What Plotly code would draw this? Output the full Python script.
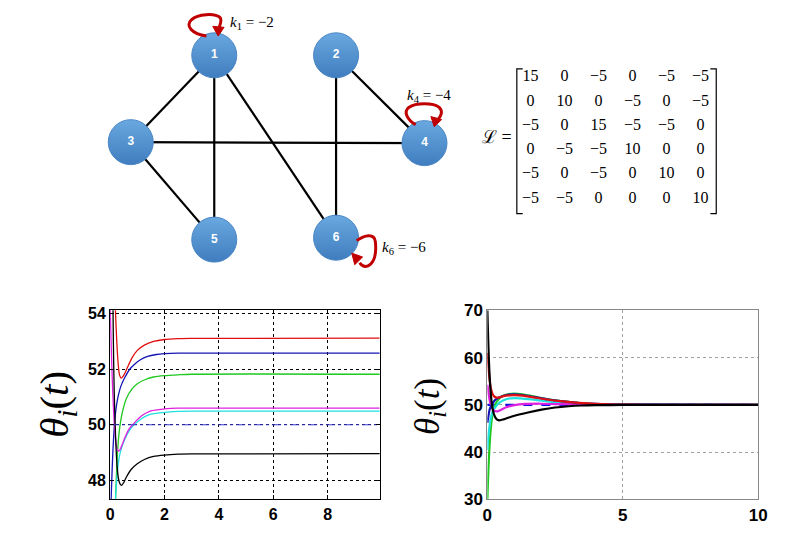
import plotly.graph_objects as go

W, H = 795, 542

# ---------------- graph data ----------------
node_ids = ["1", "2", "3", "4", "5", "6"]
node_x = [213, 337, 128, 427, 213, 337]
node_y = [48, 48, 138, 139, 239, 237]
edges = [(1, 3), (1, 5), (1, 6), (2, 4), (2, 6), (3, 4), (3, 5)]
pin_labels = {1: "<i>k</i><sub>1</sub> = −2", 4: "<i>k</i><sub>4</sub> = −4", 6: "<i>k</i><sub>6</sub> = −6"}

L_matrix = [
    [15, 0, -5, 0, -5, -5],
    [0, 10, 0, -5, 0, -5],
    [-5, 0, 15, -5, -5, 0],
    [0, -5, -5, 10, 0, 0],
    [-5, 0, -5, 0, 10, 0],
    [-5, -5, 0, 0, 0, 10],
]

# ---------------- left plot (pinned) ----------------
tL_red = [0, 0.05, 0.1, 0.15, 0.2, 0.25, 0.3, 0.35, 0.41, 0.5, 0.6, 0.8, 1.0, 1.26, 1.6, 2.0, 2.5, 3, 9.92]
yL_red = [61, 59.2, 57.3, 55.6, 54.0, 52.9, 52.15, 51.78, 51.68, 51.78, 51.98, 52.4, 52.68, 52.87, 53.0, 53.07, 53.1, 53.11, 53.12]
tL_blue = [0, 0.05, 0.1, 0.16, 0.22, 0.3, 0.4, 0.54, 0.72, 0.9, 1.1, 1.38, 1.7, 2.0, 2.5, 3, 9.92]
yL_blue = [46.2, 47.7, 49.0, 50.0, 50.6, 51.05, 51.4, 51.7, 52.0, 52.18, 52.33, 52.46, 52.53, 52.56, 52.58, 52.58, 52.58]
tL_green = [0, 0.05, 0.1, 0.15, 0.2, 0.25, 0.3, 0.36, 0.45, 0.6, 0.8, 1.0, 1.3, 1.6, 2.0, 2.5, 3, 9.92]
yL_green = [30, 36, 41, 44.8, 47.3, 48.6, 49.4, 49.95, 50.45, 50.95, 51.28, 51.48, 51.63, 51.72, 51.77, 51.8, 51.82, 51.82]
tL_mag = [0, 0.03, 0.06, 0.1, 0.15, 0.2, 0.25, 0.3, 0.36, 0.45, 0.55, 0.7, 0.85, 1.0, 1.2, 1.5, 2.0, 2.5, 3, 9.92]
yL_mag = [54.3, 53.2, 52.2, 51.1, 50.1, 49.5, 49.15, 49.05, 49.1, 49.3, 49.55, 49.85, 50.02, 50.18, 50.35, 50.5, 50.57, 50.6, 50.6, 50.6]
tL_cyan = [0, 0.1, 0.18, 0.25, 0.3, 0.36, 0.45, 0.55, 0.7, 0.85, 1.0, 1.2, 1.5, 2.0, 2.5, 3, 9.92]
yL_cyan = [40.5, 44.5, 47.0, 48.1, 48.6, 48.95, 49.25, 49.5, 49.78, 49.97, 50.1, 50.25, 50.38, 50.45, 50.48, 50.49, 50.49]
tL_black = [0, 0.03, 0.06, 0.09, 0.12, 0.15, 0.2, 0.25, 0.3, 0.36, 0.42, 0.5, 0.6, 0.78, 1.0, 1.26, 1.6, 2.0, 2.5, 3.0, 9.92]
yL_black = [70, 64, 59.5, 55.8, 53.0, 51.2, 49.6, 48.6, 48.1, 47.88, 47.82, 47.92, 48.12, 48.4, 48.6, 48.75, 48.86, 48.91, 48.94, 48.95, 48.96]
tL_avg = [0, 9.92]
yL_avg = [50, 50]

# ---------------- right plot (consensus) ----------------
tR_black = [0, 0.03, 0.06, 0.1, 0.15, 0.2, 0.28, 0.36, 0.45, 0.6, 0.8, 1.0, 1.5, 2.0, 2.5, 3.0, 3.5, 4.0, 5, 6, 10]
yR_black = [70, 64, 59, 54.5, 51, 49, 47.5, 46.9, 46.75, 46.95, 47.35, 47.7, 48.4, 49.0, 49.45, 49.72, 49.88, 49.95, 49.99, 50, 50]
tR_red = [0, 0.04, 0.08, 0.12, 0.18, 0.25, 0.33, 0.45, 0.6, 0.8, 1.0, 1.3, 1.7, 2.2, 2.7, 3.4, 4, 5, 6, 10]
yR_red = [61, 58, 55.5, 53.8, 52.5, 51.8, 51.55, 51.6, 51.85, 52.0, 52.05, 51.95, 51.6, 51.15, 50.8, 50.45, 50.25, 50.08, 50.02, 50]
tR_blue = [0, 0.05, 0.1, 0.2, 0.3, 0.45, 0.6, 0.8, 1.0, 1.3, 1.7, 2.2, 2.7, 3.4, 4, 5, 10]
yR_blue = [46.2, 48, 49.3, 50.4, 51.1, 51.6, 51.95, 52.2, 52.25, 52.1, 51.7, 51.2, 50.8, 50.4, 50.2, 50.05, 50]
tR_green = [0, 0.03, 0.06, 0.1, 0.15, 0.2, 0.3, 0.45, 0.6, 0.8, 1.0, 1.3, 1.7, 2.2, 2.8, 3.5, 4.5, 5.5, 10]
yR_green = [30, 35, 39, 43, 46.3, 48.3, 50.2, 51.4, 52.0, 52.3, 52.4, 52.25, 51.8, 51.25, 50.75, 50.35, 50.1, 50.03, 50]
tR_cyan = [0, 0.04, 0.08, 0.13, 0.2, 0.3, 0.45, 0.6, 0.8, 1.0, 1.3, 1.7, 2.2, 2.8, 3.5, 4.5, 10]
yR_cyan = [40.5, 43.5, 45.5, 47.3, 48.6, 49.6, 50.5, 51.0, 51.35, 51.45, 51.35, 51.1, 50.75, 50.45, 50.2, 50.06, 50]
tR_mag = [0, 0.05, 0.1, 0.18, 0.28, 0.38, 0.5, 0.7, 1.0, 1.4, 2.0, 2.8, 3.5, 4.5, 10]
yR_mag = [54.3, 52.2, 50.6, 49.3, 48.7, 48.65, 48.95, 49.5, 49.95, 50.2, 50.25, 50.15, 50.08, 50.02, 50]
tR_avg = [0, 10]
yR_avg = [50, 50]

COL = dict(red="#e01010", blue="#1414b4", green="#20c820", mag="#e020e0", cyan="#20e0e0", black="#000000", avg="#3a3ad0")

fig = go.Figure()

# ---------------- graph (top-left) on pixel-like axis x3/y3 ----------------
ex, ey = [], []
for a, b in edges:
    ex += [node_x[a - 1], node_x[b - 1], None]
    ey += [node_y[a - 1], node_y[b - 1], None]
fig.add_trace(go.Scatter(x=ex, y=ey, mode="lines", line=dict(color="black", width=2.2),
                         xaxis="x3", yaxis="y3", hoverinfo="skip", showlegend=False))
fig.add_trace(go.Scatter(x=node_x, y=node_y, mode="markers+text", text=node_ids,
                         textposition="middle center",
                         textfont=dict(family="Liberation Sans", size=12, color="white", weight="bold"),
                         marker=dict(size=45, color="#6aa8e0",
                                     gradient=dict(type="vertical", color="#3f7dbf"),
                                     line=dict(color="#4a86c4", width=1)),
                         xaxis="x3", yaxis="y3", hoverinfo="skip", showlegend=False))

# matrix entries
mx0, mdx, my0, mdy = 535, 34.6, 70.7, 25.2
cx, cy, ct = [], [], []
for i, row in enumerate(L_matrix):
    for j, v in enumerate(row):
        cx.append(mx0 + j * mdx)
        cy.append(my0 + i * mdy)
        ct.append(str(v).replace("-", "−"))
fig.add_trace(go.Scatter(x=cx, y=cy, mode="text", text=ct, textposition="middle center",
                         textfont=dict(family="Liberation Serif", size=16, color="black"),
                         xaxis="x3", yaxis="y3", hoverinfo="skip", showlegend=False))

shapes = []
red_loop = "#c00000"
loops = [
    "M 205,28 C 190,26 183,17 190,11 C 196,5 214,4 219,9 C 221,12 219,16 218,19",
    "M 418,120 C 410,115 405,107 411,102 C 418,97 436,97 442,102 C 446,106 444,111 441,114",
    "M 358,240 C 366,234 376,232 377,241 C 378,251 377,262 370,266 C 366,268 363,266 361,263",
]
for p in loops:
    shapes.append(dict(type="path", path=p, xref="x3", yref="y3", line=dict(color=red_loop, width=3)))
heads = [
    "M 217,28 L 211.5,18 L 223,19 Z",
    "M 437,122 L 433.5,111.5 L 444.5,114.5 Z",
    "M 353,253 L 364,257 L 356,265 Z",
]
for p in heads:
    shapes.append(dict(type="path", path=p, xref="x3", yref="y3", fillcolor=red_loop,
                       line=dict(color=red_loop, width=1)))
bl, br, bt, bb = 521, 724, 62, 212
shapes.append(dict(type="path", path=f"M {bl+6},{bt} L {bl},{bt} L {bl},{bb} L {bl+6},{bb}",
                   xref="x3", yref="y3", line=dict(color="black", width=1.2)))
shapes.append(dict(type="path", path=f"M {br-6},{bt} L {br},{bt} L {br},{bb} L {br-6},{bb}",
                   xref="x3", yref="y3", line=dict(color="black", width=1.2)))

annotations = []
for (k, txt), (ax_, ay_) in zip(pin_labels.items(), [(227, 14), (407, 90), (382, 248)]):
    annotations.append(dict(x=ax_, y=ay_, xref="x3", yref="y3", text=txt, showarrow=False,
                            xanchor="left", yanchor="middle",
                            font=dict(family="Liberation Serif", size=15, color="black")))
annotations.append(dict(x=518, y=133, xref="x3", yref="y3", text="ℒ =", showarrow=False,
                        xanchor="right", yanchor="middle",
                        font=dict(family="Liberation Serif", size=18, color="black")))

# ---------------- bottom plots ----------------
left = [(tL_red, yL_red, "red"), (tL_blue, yL_blue, "blue"), (tL_green, yL_green, "green"),
        (tL_cyan, yL_cyan, "cyan"), (tL_mag, yL_mag, "mag"), (tL_black, yL_black, "black")]
for t, y, c in left:
    fig.add_trace(go.Scatter(x=t, y=y, mode="lines", line=dict(color=COL[c], width=1.3, shape="spline", smoothing=0.8),
                             xaxis="x", yaxis="y", showlegend=False, hoverinfo="skip"))
fig.add_trace(go.Scatter(x=tL_avg, y=yL_avg, mode="lines", line=dict(color=COL["avg"], width=1, dash="dashdot"),
                         xaxis="x", yaxis="y", showlegend=False, hoverinfo="skip"))

fig.add_trace(go.Scatter(x=tR_avg, y=yR_avg, mode="lines", line=dict(color="#1010e0", width=2.2, dash="dash"),
                         xaxis="x2", yaxis="y2", showlegend=False, hoverinfo="skip"))
right = [(tR_green, yR_green, "green"), (tR_cyan, yR_cyan, "cyan"), (tR_mag, yR_mag, "mag"),
         (tR_blue, yR_blue, "blue"), (tR_red, yR_red, "red"), (tR_black, yR_black, "black")]
for t, y, c in right:
    fig.add_trace(go.Scatter(x=t, y=y, mode="lines", line=dict(color=COL[c], width=2.2, shape="spline", smoothing=0.8),
                             xaxis="x2", yaxis="y2", showlegend=False, hoverinfo="skip"))

tickfont = dict(family="Liberation Sans", size=16, color="black", weight="bold")
tickfontR = dict(family="Liberation Sans", size=17, color="black", weight="bold")

ydom = [(H - 508.3) / H, (H - 312.3) / H]
fig.update_layout(
    width=W, height=H, margin=dict(l=0, r=0, t=0, b=0),
    paper_bgcolor="white", plot_bgcolor="white",
    xaxis=dict(domain=[107 / W, 381.5 / W], range=[0, 9.92], tickvals=[0, 2, 4, 6, 8],
               showgrid=True, gridcolor="black", griddash="dot", gridwidth=1,
               showline=True, linecolor="black", linewidth=1, mirror="ticks",
               ticks="inside", ticklen=4, tickcolor="black", zeroline=False,
               tickfont=tickfont, anchor="y"),
    yaxis=dict(domain=ydom, range=[47.31, 54.12], tickvals=[48, 50, 52, 54],
               showgrid=True, gridcolor="black", griddash="dot", gridwidth=1,
               showline=True, linecolor="black", linewidth=1, mirror="ticks",
               ticks="inside", ticklen=4, tickcolor="black", zeroline=False,
               tickfont=tickfont, anchor="x"),
    xaxis2=dict(domain=[491 / W, 766.7 / W], range=[0, 10], tickvals=[0, 5, 10],
                showgrid=True, gridcolor="#a0a0a0", griddash="dot", gridwidth=1,
                showline=True, linecolor="#888888", linewidth=1, mirror=True,
                ticks="", zeroline=False, tickfont=tickfontR, anchor="y2"),
    yaxis2=dict(domain=ydom, range=[30, 70], tickvals=[30, 40, 50, 60, 70],
                showgrid=True, gridcolor="#a0a0a0", griddash="dot", gridwidth=1,
                showline=True, linecolor="#888888", linewidth=1, mirror=True,
                ticks="", zeroline=False, tickfont=tickfontR, anchor="x2"),
    xaxis3=dict(domain=[0, 1], range=[0, W], visible=False, fixedrange=True, anchor="y3"),
    yaxis3=dict(domain=[0.5, 1], range=[H / 2, 0], visible=False, fixedrange=True, anchor="x3"),
    shapes=shapes,
)

theta = "<i>θ</i><sub><i>i</i></sub>(<i>t</i>)"
annotations.append(dict(x=53 / W, y=1 - 410 / H, xref="paper", yref="paper", text=theta, textangle=-90,
                        xanchor="center", yanchor="middle",
                        showarrow=False, font=dict(family="Liberation Serif", size=41, color="black")))
annotations.append(dict(x=432 / W, y=1 - 412 / H, xref="paper", yref="paper", text=theta, textangle=-90,
                        xanchor="center", yanchor="middle",
                        showarrow=False, font=dict(family="Liberation Serif", size=35, color="black")))
fig.update_layout(annotations=annotations)

fig.write_html("out.html", config={"displayModeBar": False},
               post_script="document.body.style.margin='0';document.body.style.padding='0';document.body.style.overflow='hidden';")
